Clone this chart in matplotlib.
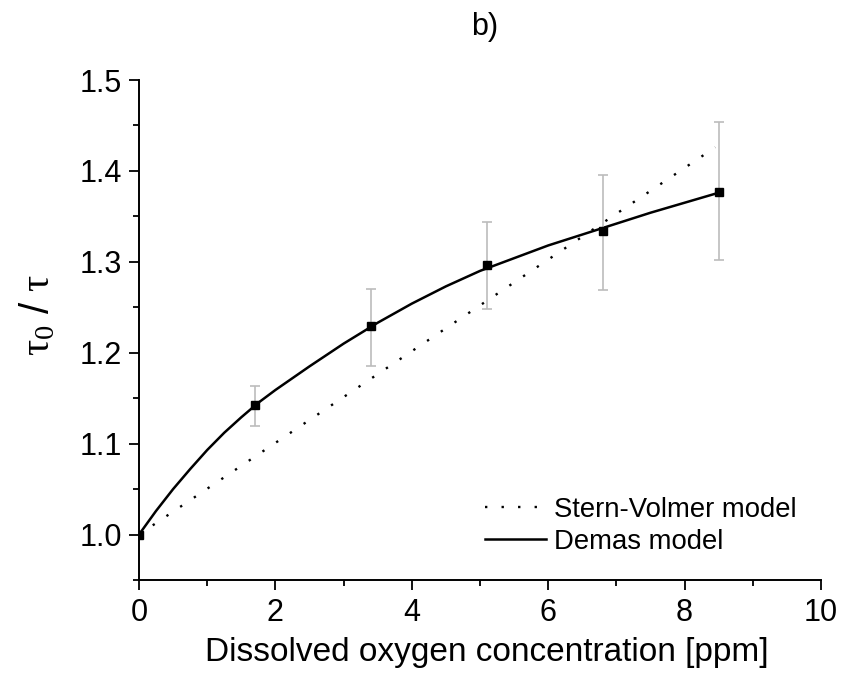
import numpy as np
from matplotlib import pyplot as plt
from matplotlib.ticker import MultipleLocator

plt.rcParams['font.family'] = ['Liberation Sans', 'DejaVu Sans']
plt.rcParams['mathtext.fontset'] = 'custom'
plt.rcParams['mathtext.rm'] = 'Liberation Serif'
plt.rcParams['mathtext.it'] = 'Liberation Serif'

# measured points with error bars
conc = [0.0, 1.7, 3.4, 5.1, 6.8, 8.5]
ratio = [1.000, 1.142, 1.229, 1.296, 1.334, 1.377]
err_lo = [0.0, 0.023, 0.044, 0.048, 0.065, 0.075]
err_hi = [0.0, 0.021, 0.041, 0.048, 0.062, 0.077]

# Stern-Volmer model (straight line)
sv_x = [0.0, 8.45]
sv_y = [1.0, 1.426]

# Demas model
dm_x = [0.0, 0.25, 0.5, 0.75, 1.0, 1.25, 1.5, 1.75, 2.0, 2.5, 3.0, 3.5,
        4.0, 4.5, 5.0, 5.5, 6.0, 6.5, 7.0, 7.5, 8.0, 8.5]
dm_y = [1.000, 1.026, 1.050, 1.072, 1.093, 1.112, 1.129, 1.145, 1.159,
        1.185, 1.210, 1.233, 1.254, 1.273, 1.290, 1.304, 1.318, 1.330,
        1.342, 1.354, 1.365, 1.376]

fig = plt.figure(figsize=(8.44, 6.75), dpi=100)
ax = fig.add_axes([139/844, 1-580/675, (821-139)/844, (580-80)/675])

ax.plot(sv_x, sv_y, color='black', lw=1.7, linestyle=(0, (1.0, 6.0)),
        label='Stern-Volmer model')
ax.plot(dm_x, dm_y, color='black', lw=1.8, label='Demas model')
ax.errorbar(conc, ratio, yerr=[err_lo, err_hi], fmt='s', color='black',
            markersize=6.3, ecolor='#bcbcbc', elinewidth=1.2, capsize=3.3,
            capthick=1.2, zorder=3)

ax.set_xlim(0, 10)
ax.set_ylim(0.95, 1.5)
ax.xaxis.set_major_locator(MultipleLocator(2))
ax.xaxis.set_minor_locator(MultipleLocator(1))
ax.yaxis.set_minor_locator(MultipleLocator(0.05))
ax.set_yticks([1.0, 1.1, 1.2, 1.3, 1.4, 1.5])
ax.set_yticklabels(['1.0', '1.1', '1.2', '1.3', '1.4', '1.5'])

for s in ['top', 'right']:
    ax.spines[s].set_visible(False)
for s in ['left', 'bottom']:
    ax.spines[s].set_linewidth(1.4)
ax.tick_params(which='major', length=7, width=1.3, labelsize=22)
ax.tick_params(axis='y', which='major', pad=5)
ax.tick_params(axis='x', which='major', pad=6)
ax.tick_params(which='minor', length=4, width=1.3)

ax.set_xlabel('Dissolved oxygen concentration [ppm]', fontsize=24)
ax.xaxis.set_label_coords(0.51, -0.115)
ax.set_ylabel(r'$\tau_0$ / $\tau$', fontsize=29)
ax.yaxis.set_label_coords(-0.12, 0.53)

fig.text(485/844, 1-27/675, 'b)', fontsize=22, ha='center', va='center')

ax.legend(loc='center left', bbox_to_anchor=(485/844, 1-526/675),
          bbox_transform=fig.transFigure, frameon=False, borderpad=0,
          borderaxespad=0, fontsize=19.8, handlelength=2.2,
          handletextpad=0.3, labelspacing=0.22)

plt.savefig('out.png', dpi=100)
